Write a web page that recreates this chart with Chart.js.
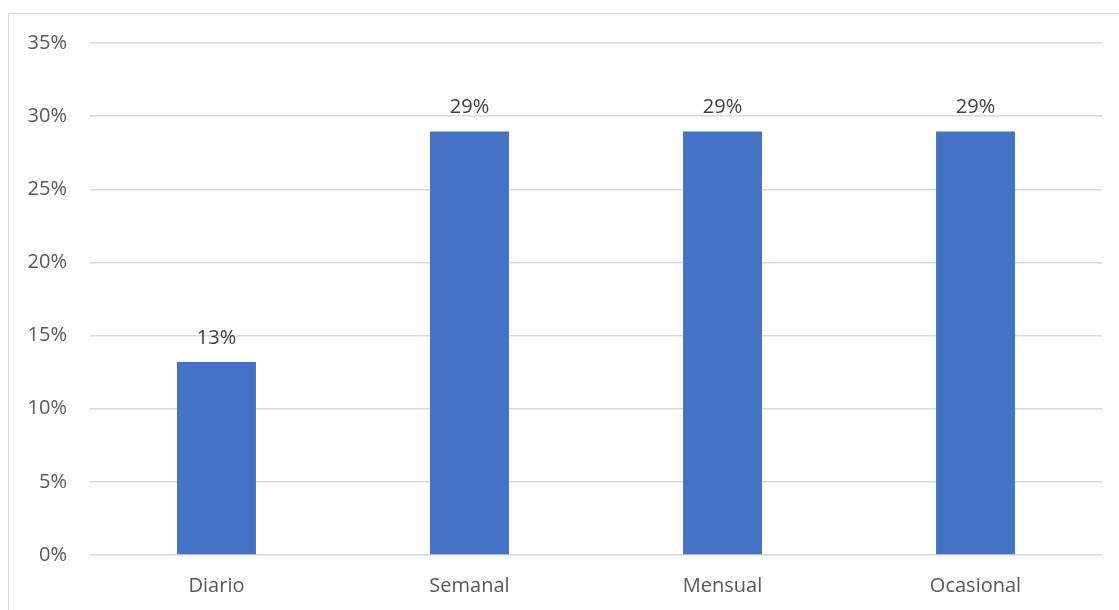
<!DOCTYPE html>
<html>
<head>
<meta charset="utf-8">
<script src="https://cdn.jsdelivr.net/npm/chart.js@4.4.0/dist/chart.umd.min.js"></script>
<style>
  html, body { margin: 0; padding: 0; background: #fff; overflow: hidden; }
  #frame { position: absolute; left: 8px; top: 13px; width: 1200px; height: 700px;
           border: 1.5px solid #d9d9d9; box-sizing: border-box; }
  #wrap { position: absolute; left: 0; top: 0; width: 1119px; height: 610px; }
</style>
</head>
<body>
<div id="frame"></div>
<div id="wrap"><canvas id="chart" width="1119" height="610"></canvas></div>
<script>
const categories = ['Diario', 'Semanal', 'Mensual', 'Ocasional'];
const values = [13.2, 28.95, 28.95, 28.95];
const valueLabels = ['13%', '29%', '29%', '29%'];
const yTicks = [0, 5, 10, 15, 20, 25, 30, 35];

// labels above each bar
const barLabels = {
  id: 'barLabels',
  afterDatasetsDraw(chart) {
    const ctx = chart.ctx;
    const meta = chart.getDatasetMeta(0);
    ctx.save();
    ctx.font = '20px "Open Sans"';
    ctx.fillStyle = '#404040';
    ctx.textAlign = 'center';
    ctx.textBaseline = 'middle';
    meta.data.forEach((bar, i) => {
      ctx.fillText(valueLabels[i], bar.x, bar.y - 24);
    });
    ctx.restore();
  }
};

const ctx = document.getElementById('chart').getContext('2d');
new Chart(ctx, {
  type: 'bar',
  data: {
    labels: categories,
    datasets: [{
      data: values,
      backgroundColor: '#4472c4',
      borderWidth: 0,
      categoryPercentage: 1,
      barPercentage: 0.312
    }]
  },
  options: {
    responsive: false,
    animation: false,
    layout: { padding: { top: 43, right: 17, bottom: 0, left: 0 } },
    plugins: { legend: { display: false }, tooltip: { enabled: false } },
    scales: {
      x: {
        grid: { display: false, drawTicks: false },
        border: { display: false },
        ticks: { color: '#595959', font: { family: 'Open Sans', size: 20 }, padding: 19 },
        afterFit(scale) { scale.height = 55; }
      },
      y: {
        min: 0,
        max: 35,
        afterBuildTicks(scale) { scale.ticks = yTicks.map(v => ({ value: v })); },
        grid: { color: '#d9d9d9', lineWidth: 1.5, drawTicks: false },
        border: { display: false },
        ticks: {
          color: '#595959',
          font: { family: 'Open Sans', size: 20 },
          padding: 23,
          callback: v => v + '%'
        },
        afterFit(scale) { scale.width = 90; }
      }
    }
  },
  plugins: [barLabels]
});
</script>
</body>
</html>
